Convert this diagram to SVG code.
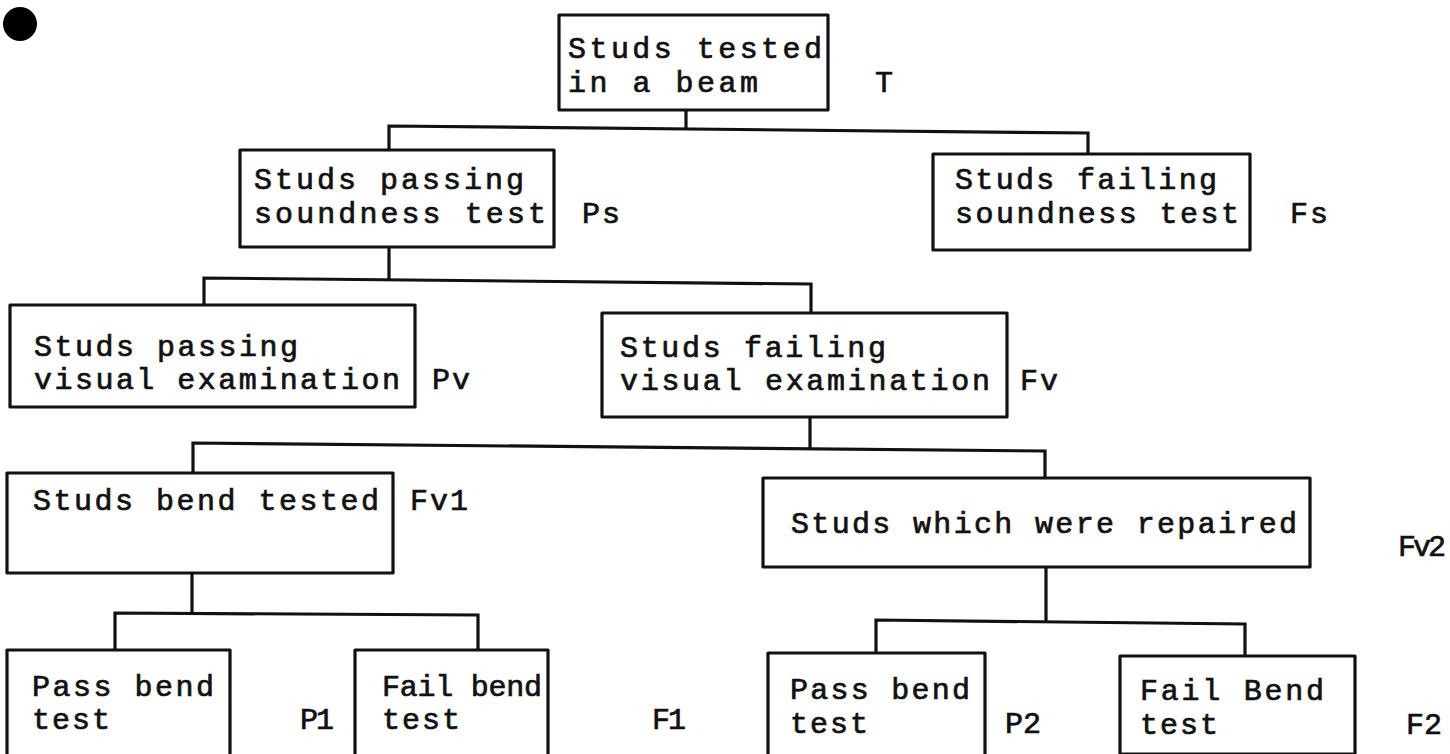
<svg xmlns="http://www.w3.org/2000/svg" width="1450" height="754" viewBox="0 0 1450 754">
<style>
.box{fill:none;stroke:#111;stroke-width:3.2;stroke-linejoin:round}
.con{fill:none;stroke:#111;stroke-width:3.2}
text{font-family:"Liberation Mono","DejaVu Sans Mono",monospace;font-size:30px;fill:#111;stroke:#111;stroke-width:0.7}
</style>
<rect width="1450" height="754" fill="#fff"/>
<circle cx="20" cy="24" r="17" fill="#000"/>
<g id="connectors">
<polyline class="con" points="686,110 686,128"/>
<polyline class="con" points="389,150 389,126 1088,133 1088,154"/>
<polyline class="con" points="389,247 389,280"/>
<polyline class="con" points="204,305 204,278 811,284 811,313"/>
<polyline class="con" points="810,417 810,450"/>
<polyline class="con" points="193,473 193,443 1045,451 1045,478"/>
<polyline class="con" points="192,573 192,614"/>
<polyline class="con" points="115,650 115,613 478,615 478,650"/>
<polyline class="con" points="1046,567 1046,622"/>
<polyline class="con" points="876,653 876,620 1245,624 1245,656"/>
</g>
<g id="node-T">
<rect class="box" x="559" y="15" width="269" height="95"/>
<text x="568" y="58" textLength="254" lengthAdjust="spacing">Studs tested</text>
<text x="568" y="92" textLength="190" lengthAdjust="spacing">in a beam</text>
<text x="875" y="92">T</text>
</g>
<g id="node-Ps">
<rect class="box" x="240" y="150" width="314" height="97"/>
<text x="254" y="189" textLength="270" lengthAdjust="spacing">Studs passing</text>
<text x="254" y="223" textLength="292" lengthAdjust="spacing">soundness test</text>
<text x="582" y="223" textLength="38" lengthAdjust="spacing">Ps</text>
</g>
<g id="node-Fs">
<rect class="box" x="933" y="154" width="317" height="96"/>
<text x="955" y="189" textLength="262" lengthAdjust="spacing">Studs failing</text>
<text x="955" y="223" textLength="284" lengthAdjust="spacing">soundness test</text>
<text x="1290" y="223" textLength="38" lengthAdjust="spacing">Fs</text>
</g>
<g id="node-Pv">
<rect class="box" x="10" y="305" width="405" height="102"/>
<text x="34" y="356" textLength="264" lengthAdjust="spacing">Studs passing</text>
<text x="34" y="389" textLength="366" lengthAdjust="spacing">visual examination</text>
<text x="432" y="389" textLength="38" lengthAdjust="spacing">Pv</text>
</g>
<g id="node-Fv">
<rect class="box" x="602" y="313" width="405" height="104"/>
<text x="620" y="357" textLength="266" lengthAdjust="spacing">Studs failing</text>
<text x="620" y="390" textLength="370" lengthAdjust="spacing">visual examination</text>
<text x="1020" y="390" textLength="38" lengthAdjust="spacing">Fv</text>
</g>
<g id="node-Fv1">
<rect class="box" x="7" y="473" width="386" height="100"/>
<text x="33" y="510" textLength="346" lengthAdjust="spacing">Studs bend tested</text>
<text x="410" y="510" textLength="58" lengthAdjust="spacing">Fv1</text>
</g>
<g id="node-Fv2">
<rect class="box" x="763" y="478" width="547" height="89"/>
<text x="791" y="533" textLength="506" lengthAdjust="spacing">Studs which were repaired</text>
<text x="1398" y="556" textLength="48" lengthAdjust="spacing">Fv2</text>
</g>
<g id="node-P1">
<rect class="box" x="7" y="650" width="223" height="112"/>
<text x="32" y="696" textLength="182" lengthAdjust="spacing">Pass bend</text>
<text x="32" y="729" textLength="78" lengthAdjust="spacing">test</text>
<text x="300" y="729" textLength="34" lengthAdjust="spacing">P1</text>
</g>
<g id="node-F1">
<rect class="box" x="355" y="650" width="193" height="112"/>
<text x="382" y="696" textLength="160" lengthAdjust="spacing">Fail bend</text>
<text x="382" y="729" textLength="78" lengthAdjust="spacing">test</text>
<text x="652" y="729" textLength="34" lengthAdjust="spacing">F1</text>
</g>
<g id="node-P2">
<rect class="box" x="768" y="653" width="217" height="109"/>
<text x="790" y="699" textLength="180" lengthAdjust="spacing">Pass bend</text>
<text x="790" y="733" textLength="78" lengthAdjust="spacing">test</text>
<text x="1005" y="733" textLength="36" lengthAdjust="spacing">P2</text>
</g>
<g id="node-F2">
<rect class="box" x="1120" y="656" width="235" height="98"/>
<text x="1140" y="700" textLength="184" lengthAdjust="spacing">Fail Bend</text>
<text x="1140" y="734" textLength="78" lengthAdjust="spacing">test</text>
<text x="1406" y="734" textLength="36" lengthAdjust="spacing">F2</text>
</g>
</svg>
